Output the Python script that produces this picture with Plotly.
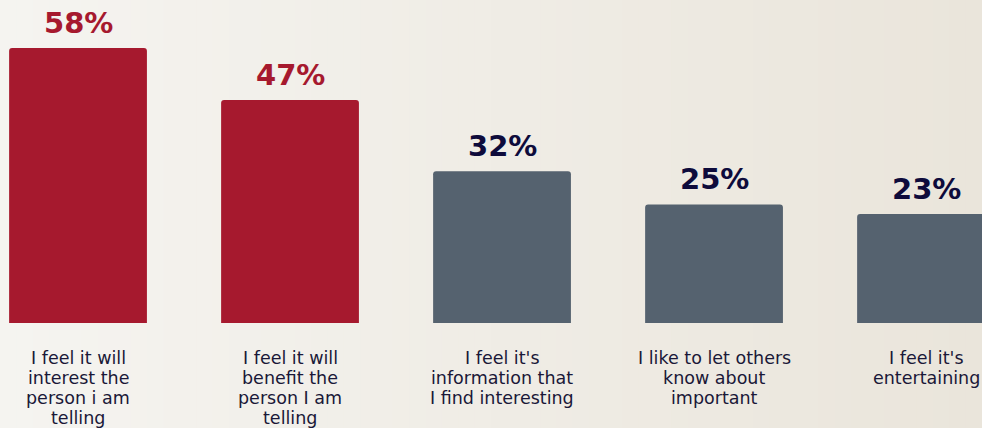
import plotly.graph_objects as go

# Survey: reasons for sharing information
reasons = [
    "I feel it will<br>interest the<br>person i am<br>telling",
    "I feel it will<br>benefit the<br>person I am<br>telling",
    "I feel it's<br>information that<br>I find interesting",
    "I like to let others<br>know about<br>important",
    "I feel it's<br>entertaining",
]
shares = [58, 47, 32, 25, 23]
highlight = [True, True, False, False, False]

RED = "#A6192E"
SLATE = "#55626F"
NAVY = "#0E0B3B"
FONT = "DejaVu Sans"

positions = list(range(len(shares)))
bar_colors = [RED if h else SLATE for h in highlight]
value_colors = [RED if h else NAVY for h in highlight]

fig = go.Figure()
fig.add_trace(go.Bar(
    x=positions,
    y=shares,
    width=0.65,
    marker=dict(color=bar_colors, line=dict(width=0)),
    hoverinfo="skip",
))

# soft left-to-right background gradient
left = (245, 244, 240)
right = (234, 229, 219)
n = 60
shapes = []
for i in range(n):
    t = i / (n - 1)
    c = tuple(round(left[k] + (right[k] - left[k]) * t) for k in range(3))
    shapes.append(dict(
        type="rect", xref="paper", yref="paper",
        x0=i / n, x1=(i + 1) / n + 0.002, y0=-0.5, y1=1.1,
        fillcolor="rgb(%d,%d,%d)" % c, line=dict(width=0), layer="below",
    ))

annotations = []
for x, v, col in zip(positions, shares, value_colors):
    annotations.append(dict(
        x=x, y=v, xref="x", yref="y", text="<b>%d%%</b>" % v,
        showarrow=False, yanchor="bottom", yshift=6,
        font=dict(family=FONT, size=29, color=col),
    ))

# category labels, one annotation per line for tight line spacing
for x, label in zip(positions, reasons):
    for j, line in enumerate(label.split("<br>")):
        annotations.append(dict(
            x=x, y=0, xref="x", yref="y", text=line,
            showarrow=False, yanchor="middle", yshift=-(35 + 20 * j),
            font=dict(family=FONT, size=17.5, color="#1A1838"),
        ))

fig.update_layout(
    width=982, height=428,
    margin=dict(l=0, r=0, t=0, b=105),
    paper_bgcolor="#F2F0EB",
    plot_bgcolor="rgba(0,0,0,0)",
    showlegend=False,
    barcornerradius=3,
    shapes=shapes,
    annotations=annotations,
    xaxis=dict(range=[-0.368, 4.264], visible=False, fixedrange=True),
    yaxis=dict(range=[0, 68.1], visible=False, fixedrange=True),
)

fig.write_html("out.html")
